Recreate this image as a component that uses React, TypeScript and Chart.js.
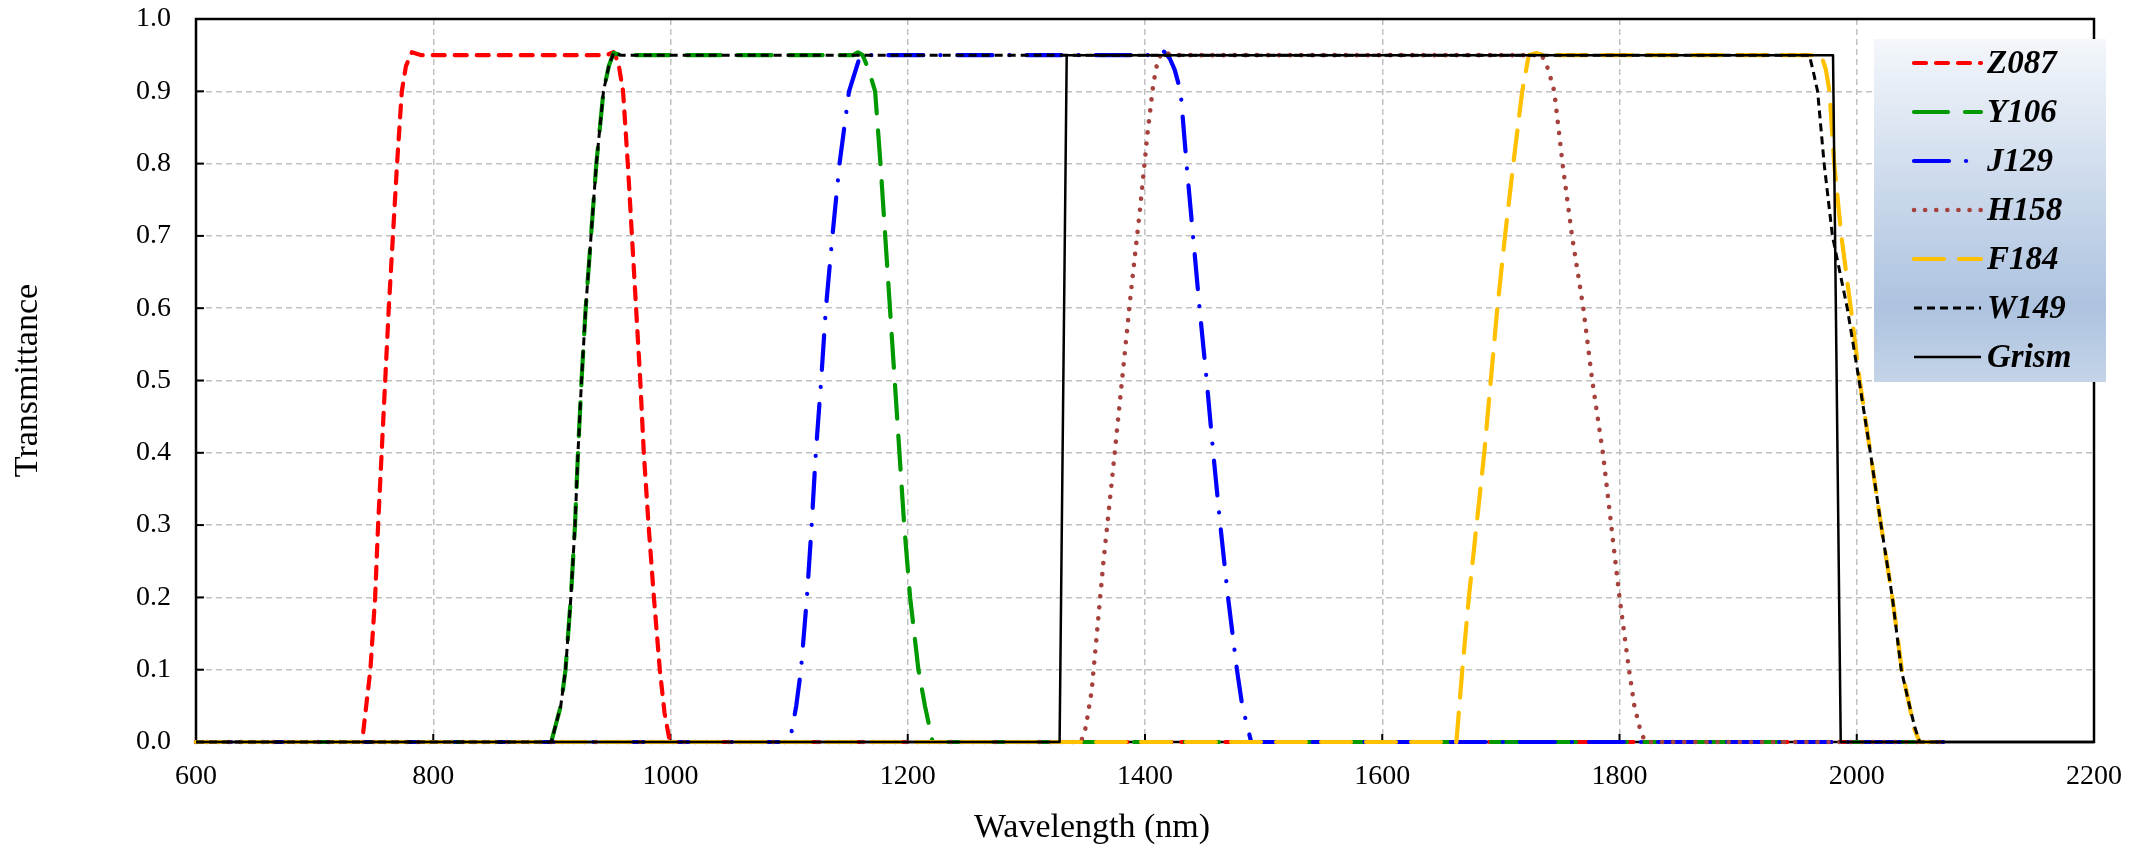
import React, { useEffect, useRef } from "react";
import { Chart, registerables } from "chart.js";

Chart.register(...registerables);

// ---- Data (wavelength in nm, transmittance) ----
const z087Wl = [600, 740, 747, 751, 753.5, 756.5, 759.5, 762.5, 766, 769.5, 773.5, 777, 782, 790, 946, 952, 956, 960, 964, 967.5, 971, 974.5, 977.5, 981.5, 986, 991, 995, 999.5, 2073];
const z087T = [0, 0, 0.1, 0.2, 0.3, 0.4, 0.5, 0.6, 0.7, 0.8, 0.9, 0.935, 0.954, 0.95, 0.95, 0.954, 0.94, 0.9, 0.8, 0.7, 0.6, 0.5, 0.4, 0.3, 0.2, 0.1, 0.04, 0, 0];

const y106Wl = [600, 899.5, 907.5, 911.5, 916, 919.5, 922, 925, 928.5, 933, 937.5, 943.5, 948, 952, 958, 1154, 1158, 1162, 1167, 1172.5, 1177, 1181, 1185, 1189, 1193, 1197, 1202, 1209, 1214.5, 1221, 2073];
const y106T = [0, 0, 0.05, 0.1, 0.2, 0.3, 0.4, 0.5, 0.6, 0.7, 0.8, 0.9, 0.935, 0.953, 0.95, 0.95, 0.954, 0.95, 0.93, 0.9, 0.8, 0.7, 0.6, 0.5, 0.4, 0.3, 0.2, 0.1, 0.05, 0, 0];

const j129Wl = [600, 1100.5, 1106, 1110, 1115, 1119, 1122.5, 1127, 1131, 1136.5, 1142.5, 1150.5, 1158.5, 1163, 1168, 1410, 1416, 1421, 1425, 1430, 1435, 1440.5, 1446, 1452, 1457.5, 1463.5, 1470, 1477.5, 1482, 1489.5, 2073];
const j129T = [0, 0, 0.05, 0.1, 0.2, 0.3, 0.4, 0.5, 0.6, 0.7, 0.8, 0.9, 0.942, 0.952, 0.95, 0.95, 0.955, 0.945, 0.93, 0.9, 0.8, 0.7, 0.6, 0.5, 0.4, 0.3, 0.2, 0.1, 0.05, 0, 0];

const h158Wl = [600, 1346, 1350, 1355, 1360, 1365, 1372, 1380, 1388, 1396, 1402, 1407, 1411, 1416, 1422, 1728, 1734, 1740, 1745, 1752, 1760, 1769.5, 1777, 1786, 1793, 1800, 1808, 1812.5, 1817, 1821.5, 2073];
const h158T = [0, 0, 0.02, 0.07, 0.16, 0.25, 0.36, 0.49, 0.62, 0.74, 0.84, 0.91, 0.945, 0.955, 0.95, 0.95, 0.952, 0.93, 0.9, 0.8, 0.7, 0.6, 0.5, 0.4, 0.3, 0.2, 0.1, 0.05, 0.02, 0, 0];

const f184Wl = [600, 1662.5, 1665, 1667.5, 1673, 1679.5, 1686, 1691.5, 1697, 1703.5, 1710.5, 1718, 1723.5, 1730, 1736, 1970, 1974, 1977, 1981, 1987, 1995, 2002.5, 2011.5, 2020.5, 2030, 2038, 2044.5, 2048, 2053, 2073];
const f184T = [0, 0, 0.05, 0.1, 0.2, 0.3, 0.4, 0.5, 0.6, 0.7, 0.8, 0.9, 0.95, 0.953, 0.95, 0.95, 0.93, 0.9, 0.8, 0.7, 0.6, 0.5, 0.4, 0.3, 0.2, 0.1, 0.05, 0.02, 0, 0];

const w149Wl = [600, 899.5, 907.5, 911.5, 916, 919.5, 922, 925, 928.5, 933, 937.5, 943.5, 948, 952, 958, 1960, 1963, 1967, 1972.5, 1979.5, 1992, 2002, 2011.5, 2020.5, 2030, 2037.5, 2044.5, 2049, 2053, 2073];
const w149T = [0, 0, 0.05, 0.1, 0.2, 0.3, 0.4, 0.5, 0.6, 0.7, 0.8, 0.9, 0.935, 0.953, 0.95, 0.95, 0.93, 0.9, 0.8, 0.7, 0.6, 0.5, 0.4, 0.3, 0.2, 0.1, 0.05, 0.02, 0, 0];

const grismWl = [600, 1328, 1334, 1980, 1986.5, 2200];
const grismT = [0, 0, 0.95, 0.95, 0, 0];

const seriesNames = ["Z087", "Y106", "J129", "H158", "F184", "W149", "Grism"];
const xTicks = [600, 800, 1000, 1200, 1400, 1600, 1800, 2000, 2200];
const yTicks = [0, 0.1, 0.2, 0.3, 0.4, 0.5, 0.6, 0.7, 0.8, 0.9, 1.0];
const xTitle = "Wavelength (nm)";
const yTitle = "Transmittance";

const zip = (xs: number[], ys: number[]) => xs.map((x, i) => ({ x, y: ys[i] }));

const FONT = "'Liberation Serif', 'Times New Roman', serif";

const styles = [
  { color: "#ff0000", width: 4.2, dash: [12, 10], cap: "round" },
  { color: "#009a00", width: 4.2, dash: [34, 17], cap: "round" },
  { color: "#0000ff", width: 4.2, dash: [35, 17, 0.1, 17], cap: "round" },
  { color: "#a5423e", width: 4.6, dash: [0.1, 11], cap: "round" },
  { color: "#ffc000", width: 4.2, dash: [30, 15], cap: "round" },
  { color: "#000000", width: 3, dash: [8, 5], cap: "butt" },
  { color: "#000000", width: 2.5, dash: [] as number[], cap: "butt" },
];

const framePlugin = {
  id: "frame",
  beforeDatasetsDraw(chart: any) {
    const { ctx, chartArea: a, scales } = chart;
    ctx.save();
    ctx.strokeStyle = "#000";
    ctx.lineWidth = 2.5;
    ctx.setLineDash([]);
    ctx.strokeRect(a.left, a.top, a.right - a.left, a.bottom - a.top);
    ctx.lineWidth = 2;
    for (const v of xTicks) {
      const px = scales.x.getPixelForValue(v);
      ctx.beginPath();
      ctx.moveTo(px, a.bottom);
      ctx.lineTo(px, a.bottom - 8);
      ctx.stroke();
    }
    for (const v of yTicks) {
      const py = scales.y.getPixelForValue(v);
      ctx.beginPath();
      ctx.moveTo(a.left, py);
      ctx.lineTo(a.left + 8, py);
      ctx.stroke();
    }
    ctx.restore();
  },
  afterDraw(chart: any) {
    const { ctx, chartArea: a } = chart;
    ctx.save();
    ctx.fillStyle = "#000";
    ctx.font = `34px ${FONT}`;
    ctx.textAlign = "center";
    ctx.textBaseline = "middle";
    ctx.fillText(xTitle, 1092, 828);
    ctx.translate(28, (a.top + a.bottom) / 2);
    ctx.rotate(-Math.PI / 2);
    ctx.fillText(yTitle, 0, 0);
    ctx.restore();
  },
};

const legendPlugin = {
  id: "customLegend",
  afterDraw(chart: any) {
    const { ctx } = chart;
    const x0 = 1874, y0 = 39, w = 232, h = 343;
    ctx.save();
    const g = ctx.createLinearGradient(0, y0, 0, y0 + h);
    g.addColorStop(0, "#f4f7fb");
    g.addColorStop(0.45, "#cad8eb");
    g.addColorStop(0.78, "#adc3df");
    g.addColorStop(1, "#c4d4e8");
    ctx.fillStyle = g;
    ctx.fillRect(x0, y0, w, h);
    const ds = chart.data.datasets;
    ds.forEach((d: any, i: number) => {
      const cy = 63 + i * 49;
      ctx.strokeStyle = d.borderColor;
      ctx.lineWidth = d.borderWidth;
      ctx.lineCap = d.borderCapStyle;
      ctx.setLineDash(d.borderDash || []);
      ctx.beginPath();
      ctx.moveTo(1914, cy);
      ctx.lineTo(1981, cy);
      ctx.stroke();
      ctx.setLineDash([]);
      ctx.fillStyle = "#000";
      ctx.font = `italic bold 33px ${FONT}`;
      ctx.textAlign = "left";
      ctx.textBaseline = "middle";
      ctx.fillText(d.label, 1987, cy + 1);
    });
    ctx.restore();
  },
};

export default function App() {
  const ref = useRef<HTMLCanvasElement | null>(null);
  useEffect(() => {
    if (!ref.current) return;
    const wls = [z087Wl, y106Wl, j129Wl, h158Wl, f184Wl, w149Wl, grismWl];
    const ts = [z087T, y106T, j129T, h158T, f184T, w149T, grismT];
    const datasets = seriesNames.map((name, i) => ({
      label: name,
      data: zip(wls[i], ts[i]),
      borderColor: styles[i].color,
      backgroundColor: styles[i].color,
      borderWidth: styles[i].width,
      borderDash: styles[i].dash,
      borderCapStyle: styles[i].cap,
      borderJoinStyle: "round",
      pointRadius: 0,
      tension: 0,
      fill: false,
      clip: false,
      order: seriesNames.length - 1 - i,
    }));
    const chart = new Chart(ref.current, {
      type: "line",
      data: { datasets } as any,
      options: {
        animation: false,
        responsive: false,
        devicePixelRatio: 1,
        layout: { padding: { left: 0, right: 54, top: 19, bottom: 0 } },
        plugins: { legend: { display: false }, tooltip: { enabled: false } },
        scales: {
          x: {
            type: "linear",
            min: 600,
            max: 2200,
            afterBuildTicks: (s: any) => {
              s.ticks = xTicks.map((v) => ({ value: v }));
            },
            afterFit: (s: any) => {
              s.height = 107;
            },
            grid: { color: "#c0c0c0", lineWidth: 1.5, drawTicks: true, tickLength: 18, tickColor: "rgba(0,0,0,0)" },
            border: { display: false, dash: [6, 4] },
            ticks: {
              padding: 0,
              color: "#000",
              font: { family: FONT, size: 28 },
              maxRotation: 0,
              callback: (v: any) => String(v),
            },
            title: { display: false },
          },
          y: {
            type: "linear",
            min: 0,
            max: 1,
            afterBuildTicks: (s: any) => {
              s.ticks = yTicks.map((v) => ({ value: v }));
            },
            afterFit: (s: any) => {
              s.width = 196;
            },
            grid: { color: "#c0c0c0", lineWidth: 1.5, drawTicks: true, tickLength: 25, tickColor: "rgba(0,0,0,0)" },
            border: { display: false, dash: [6, 4] },
            ticks: {
              padding: 0,
              color: "#000",
              font: { family: FONT, size: 28 },
              callback: (v: any) => Number(v).toFixed(1),
            },
            title: { display: false },
          },
        },
      } as any,
      plugins: [framePlugin, legendPlugin],
    });
    return () => chart.destroy();
  }, []);
  return (
    <div style={{ position: "absolute", left: 0, top: 0, width: 2148, height: 849, background: "#fff" }}>
      <canvas ref={ref} width={2148} height={849} />
    </div>
  );
}
